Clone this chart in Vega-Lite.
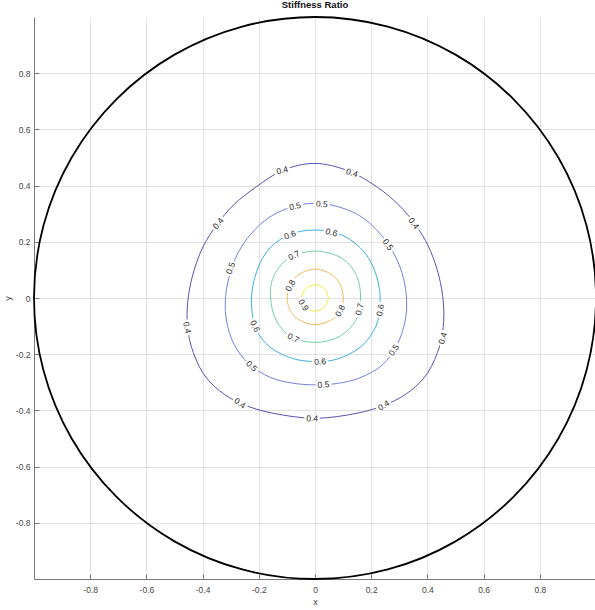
{
  "$schema": "https://vega.github.io/schema/vega-lite/v6.json",
  "autosize": {"type": "none"},
  "padding": {"left": 34, "top": 17, "right": 0, "bottom": 31},
  "width": 562,
  "height": 562,
  "background": "white",
  "config": {
    "view": {"stroke": null},
    "font": "Liberation Sans",
    "axis": {
      "grid": true,
      "gridColor": "#e2e2e2",
      "gridWidth": 1,
      "domainColor": "#7a7a7a",
      "domainWidth": 1,
      "tickColor": "#7a7a7a",
      "tickSize": -5,
      "labelFont": "Liberation Sans",
      "labelFontSize": 8.5,
      "labelColor": "#444444",
      "titleFont": "Liberation Sans",
      "titleFontSize": 9,
      "titleFontWeight": "normal",
      "titleColor": "#444444"
    }
  },
  "title": {
    "text": "Stiffness Ratio",
    "font": "Liberation Sans",
    "fontSize": 9.5,
    "fontWeight": "bold",
    "color": "#111111",
    "offset": 4
  },
  "datasets": {
    "circle": [
      {"i": 0, "x": 0, "y": 1},
      {"i": 1, "x": -0.259, "y": 0.966},
      {"i": 2, "x": -0.5, "y": 0.866},
      {"i": 3, "x": -0.707, "y": 0.707},
      {"i": 4, "x": -0.866, "y": 0.5},
      {"i": 5, "x": -0.966, "y": 0.259},
      {"i": 6, "x": -1, "y": 0},
      {"i": 7, "x": -0.966, "y": -0.259},
      {"i": 8, "x": -0.866, "y": -0.5},
      {"i": 9, "x": -0.707, "y": -0.707},
      {"i": 10, "x": -0.5, "y": -0.866},
      {"i": 11, "x": -0.259, "y": -0.966},
      {"i": 12, "x": 0, "y": -1},
      {"i": 13, "x": 0.259, "y": -0.966},
      {"i": 14, "x": 0.5, "y": -0.866},
      {"i": 15, "x": 0.707, "y": -0.707},
      {"i": 16, "x": 0.866, "y": -0.5},
      {"i": 17, "x": 0.966, "y": -0.259},
      {"i": 18, "x": 1, "y": 0},
      {"i": 19, "x": 0.966, "y": 0.259},
      {"i": 20, "x": 0.866, "y": 0.5},
      {"i": 21, "x": 0.707, "y": 0.707},
      {"i": 22, "x": 0.5, "y": 0.866},
      {"i": 23, "x": 0.259, "y": 0.966}
    ],
    "contours": [
      {"lev": 0.4, "i": 0, "x": 0, "y": 0.479},
      {"lev": 0.4, "i": 1, "x": -0.113, "y": 0.455},
      {"lev": 0.4, "i": 2, "x": -0.21, "y": 0.395},
      {"lev": 0.4, "i": 3, "x": -0.29, "y": 0.331},
      {"lev": 0.4, "i": 4, "x": -0.35, "y": 0.26},
      {"lev": 0.4, "i": 5, "x": -0.397, "y": 0.185},
      {"lev": 0.4, "i": 6, "x": -0.43, "y": 0.1},
      {"lev": 0.4, "i": 7, "x": -0.45, "y": 0.01},
      {"lev": 0.4, "i": 8, "x": -0.455, "y": -0.08},
      {"lev": 0.4, "i": 9, "x": -0.441, "y": -0.17},
      {"lev": 0.4, "i": 10, "x": -0.4, "y": -0.265},
      {"lev": 0.4, "i": 11, "x": -0.34, "y": -0.33},
      {"lev": 0.4, "i": 12, "x": -0.26, "y": -0.377},
      {"lev": 0.4, "i": 13, "x": -0.15, "y": -0.41},
      {"lev": 0.4, "i": 14, "x": 0, "y": -0.428},
      {"lev": 0.4, "i": 15, "x": 0.15, "y": -0.41},
      {"lev": 0.4, "i": 16, "x": 0.26, "y": -0.376},
      {"lev": 0.4, "i": 17, "x": 0.34, "y": -0.33},
      {"lev": 0.4, "i": 18, "x": 0.402, "y": -0.265},
      {"lev": 0.4, "i": 19, "x": 0.444, "y": -0.17},
      {"lev": 0.4, "i": 20, "x": 0.458, "y": -0.08},
      {"lev": 0.4, "i": 21, "x": 0.454, "y": 0.01},
      {"lev": 0.4, "i": 22, "x": 0.435, "y": 0.1},
      {"lev": 0.4, "i": 23, "x": 0.403, "y": 0.185},
      {"lev": 0.4, "i": 24, "x": 0.358, "y": 0.26},
      {"lev": 0.4, "i": 25, "x": 0.298, "y": 0.331},
      {"lev": 0.4, "i": 26, "x": 0.218, "y": 0.397},
      {"lev": 0.4, "i": 27, "x": 0.117, "y": 0.453},
      {"lev": 0.5, "i": 0, "x": 0, "y": 0.337},
      {"lev": 0.5, "i": 1, "x": -0.08, "y": 0.325},
      {"lev": 0.5, "i": 2, "x": -0.16, "y": 0.289},
      {"lev": 0.5, "i": 3, "x": -0.228, "y": 0.228},
      {"lev": 0.5, "i": 4, "x": -0.278, "y": 0.153},
      {"lev": 0.5, "i": 5, "x": -0.307, "y": 0.07},
      {"lev": 0.5, "i": 6, "x": -0.319, "y": -0.01},
      {"lev": 0.5, "i": 7, "x": -0.314, "y": -0.085},
      {"lev": 0.5, "i": 8, "x": -0.288, "y": -0.165},
      {"lev": 0.5, "i": 9, "x": -0.235, "y": -0.235},
      {"lev": 0.5, "i": 10, "x": -0.16, "y": -0.282},
      {"lev": 0.5, "i": 11, "x": -0.08, "y": -0.303},
      {"lev": 0.5, "i": 12, "x": 0, "y": -0.309},
      {"lev": 0.5, "i": 13, "x": 0.08, "y": -0.304},
      {"lev": 0.5, "i": 14, "x": 0.16, "y": -0.284},
      {"lev": 0.5, "i": 15, "x": 0.24, "y": -0.238},
      {"lev": 0.5, "i": 16, "x": 0.292, "y": -0.167},
      {"lev": 0.5, "i": 17, "x": 0.32, "y": -0.085},
      {"lev": 0.5, "i": 18, "x": 0.326, "y": -0.01},
      {"lev": 0.5, "i": 19, "x": 0.315, "y": 0.07},
      {"lev": 0.5, "i": 20, "x": 0.285, "y": 0.15},
      {"lev": 0.5, "i": 21, "x": 0.235, "y": 0.225},
      {"lev": 0.5, "i": 22, "x": 0.165, "y": 0.289},
      {"lev": 0.5, "i": 23, "x": 0.082, "y": 0.325},
      {"lev": 0.6, "i": 0, "x": 0, "y": 0.242},
      {"lev": 0.6, "i": 1, "x": -0.1, "y": 0.222},
      {"lev": 0.6, "i": 2, "x": -0.175, "y": 0.16},
      {"lev": 0.6, "i": 3, "x": -0.215, "y": 0.07},
      {"lev": 0.6, "i": 4, "x": -0.226, "y": -0.02},
      {"lev": 0.6, "i": 5, "x": -0.21, "y": -0.11},
      {"lev": 0.6, "i": 6, "x": -0.16, "y": -0.175},
      {"lev": 0.6, "i": 7, "x": -0.08, "y": -0.215},
      {"lev": 0.6, "i": 8, "x": 0, "y": -0.226},
      {"lev": 0.6, "i": 9, "x": 0.08, "y": -0.217},
      {"lev": 0.6, "i": 10, "x": 0.165, "y": -0.172},
      {"lev": 0.6, "i": 11, "x": 0.217, "y": -0.1},
      {"lev": 0.6, "i": 12, "x": 0.232, "y": -0.015},
      {"lev": 0.6, "i": 13, "x": 0.22, "y": 0.075},
      {"lev": 0.6, "i": 14, "x": 0.178, "y": 0.16},
      {"lev": 0.6, "i": 15, "x": 0.1, "y": 0.222},
      {"lev": 0.7, "i": 0, "x": 0, "y": 0.167},
      {"lev": 0.7, "i": 1, "x": -0.095, "y": 0.14},
      {"lev": 0.7, "i": 2, "x": -0.148, "y": 0.075},
      {"lev": 0.7, "i": 3, "x": -0.158, "y": 0},
      {"lev": 0.7, "i": 4, "x": -0.138, "y": -0.08},
      {"lev": 0.7, "i": 5, "x": -0.085, "y": -0.138},
      {"lev": 0.7, "i": 6, "x": 0, "y": -0.158},
      {"lev": 0.7, "i": 7, "x": 0.085, "y": -0.138},
      {"lev": 0.7, "i": 8, "x": 0.145, "y": -0.08},
      {"lev": 0.7, "i": 9, "x": 0.162, "y": 0},
      {"lev": 0.7, "i": 10, "x": 0.148, "y": 0.08},
      {"lev": 0.7, "i": 11, "x": 0.095, "y": 0.142},
      {"lev": 0.8, "i": 0, "x": 0, "y": 0.103},
      {"lev": 0.8, "i": 1, "x": -0.071, "y": 0.072},
      {"lev": 0.8, "i": 2, "x": -0.099, "y": 0},
      {"lev": 0.8, "i": 3, "x": -0.072, "y": -0.066},
      {"lev": 0.8, "i": 4, "x": 0, "y": -0.095},
      {"lev": 0.8, "i": 5, "x": 0.074, "y": -0.066},
      {"lev": 0.8, "i": 6, "x": 0.101, "y": 0},
      {"lev": 0.8, "i": 7, "x": 0.073, "y": 0.072},
      {"lev": 0.9, "i": 0, "x": 0, "y": 0.047},
      {"lev": 0.9, "i": 1, "x": -0.033, "y": 0.033},
      {"lev": 0.9, "i": 2, "x": -0.047, "y": 0},
      {"lev": 0.9, "i": 3, "x": -0.033, "y": -0.033},
      {"lev": 0.9, "i": 4, "x": 0, "y": -0.047},
      {"lev": 0.9, "i": 5, "x": 0.033, "y": -0.033},
      {"lev": 0.9, "i": 6, "x": 0.047, "y": 0},
      {"lev": 0.9, "i": 7, "x": 0.033, "y": 0.033}
    ],
    "labels": [
      {"lev": 0.4, "x": -0.117, "y": 0.455},
      {"lev": 0.4, "x": 0.132, "y": 0.446},
      {"lev": 0.4, "x": -0.345, "y": 0.266},
      {"lev": 0.4, "x": 0.352, "y": 0.266},
      {"lev": 0.4, "x": -0.455, "y": -0.105},
      {"lev": 0.4, "x": 0.454, "y": -0.143},
      {"lev": 0.4, "x": -0.267, "y": -0.374},
      {"lev": 0.4, "x": 0.244, "y": -0.382},
      {"lev": 0.4, "x": -0.01, "y": -0.428},
      {"lev": 0.5, "x": -0.071, "y": 0.327},
      {"lev": 0.5, "x": 0.024, "y": 0.335},
      {"lev": 0.5, "x": -0.301, "y": 0.106},
      {"lev": 0.5, "x": 0.26, "y": 0.19},
      {"lev": 0.5, "x": -0.225, "y": -0.242},
      {"lev": 0.5, "x": 0.28, "y": -0.185},
      {"lev": 0.5, "x": 0.03, "y": -0.308},
      {"lev": 0.6, "x": -0.089, "y": 0.225},
      {"lev": 0.6, "x": 0.059, "y": 0.234},
      {"lev": 0.6, "x": -0.213, "y": -0.1},
      {"lev": 0.6, "x": 0.232, "y": -0.043},
      {"lev": 0.6, "x": 0.018, "y": -0.226},
      {"lev": 0.7, "x": -0.075, "y": 0.152},
      {"lev": 0.7, "x": -0.077, "y": -0.142},
      {"lev": 0.7, "x": 0.158, "y": -0.04},
      {"lev": 0.8, "x": -0.088, "y": 0.045},
      {"lev": 0.8, "x": 0.089, "y": -0.045},
      {"lev": 0.9, "x": -0.04, "y": -0.025}
    ]
  },
  "encoding": {
    "x": {
      "field": "x",
      "type": "quantitative",
      "scale": {"domain": [-1, 1], "nice": false, "zero": false},
      "axis": {
        "title": "x",
        "values": [-0.8, -0.6, -0.4, -0.2, 0, 0.2, 0.4, 0.6, 0.8],
        "labelExpr": "datum.value == 0 ? '0' : (datum.value < 0 ? '-' : '') + format(abs(datum.value), '.1f')",
        "labelPadding": 11,
        "titlePadding": 4
      }
    },
    "y": {
      "field": "y",
      "type": "quantitative",
      "scale": {"domain": [-1, 1], "nice": false, "zero": false},
      "axis": {
        "title": "y",
        "values": [-0.8, -0.6, -0.4, -0.2, 0, 0.2, 0.4, 0.6, 0.8],
        "labelExpr": "datum.value == 0 ? '0' : (datum.value < 0 ? '-' : '') + format(abs(datum.value), '.1f')",
        "labelPadding": 9,
        "titlePadding": 3
      }
    }
  },
  "layer": [
    {
      "data": {"name": "contours"},
      "mark": {"type": "line", "interpolate": "cardinal-closed", "strokeWidth": 1},
      "encoding": {
        "order": {"field": "i", "type": "quantitative"},
        "color": {
          "field": "lev",
          "type": "ordinal",
          "scale": {
            "domain": [0.4, 0.5, 0.6, 0.7, 0.8, 0.9],
            "range": ["#5753b0", "#7480e2", "#3cb1df", "#72cfa4", "#f0bb55", "#f2ec42"]
          },
          "legend": null
        }
      }
    },
    {
      "data": {"name": "labels"},
      "transform": [
        {"calculate": "datum.y == 0 ? 90 : atan(datum.x / datum.y) * 180 / PI", "as": "ang"}
      ],
      "mark": {"type": "point", "shape": "M-1,-0.42H1V0.42H-1Z", "filled": true, "color": "white", "opacity": 1, "size": 250},
      "encoding": {
        "angle": {"field": "ang", "type": "quantitative", "scale": null}
      }
    },
    {
      "data": {"name": "labels"},
      "transform": [
        {"calculate": "datum.y == 0 ? 90 : atan(datum.x / datum.y) * 180 / PI", "as": "ang"}
      ],
      "mark": {"type": "text", "font": "Liberation Sans", "fontSize": 8.5, "color": "#262626", "align": "center", "baseline": "middle"},
      "encoding": {
        "text": {"field": "lev", "type": "quantitative", "format": ".1f"},
        "angle": {"field": "ang", "type": "quantitative", "scale": null}
      }
    },
    {
      "data": {"name": "circle"},
      "mark": {"type": "line", "interpolate": "cardinal-closed", "color": "#000000", "strokeWidth": 1.8},
      "encoding": {
        "order": {"field": "i", "type": "quantitative"}
      }
    }
  ]
}
